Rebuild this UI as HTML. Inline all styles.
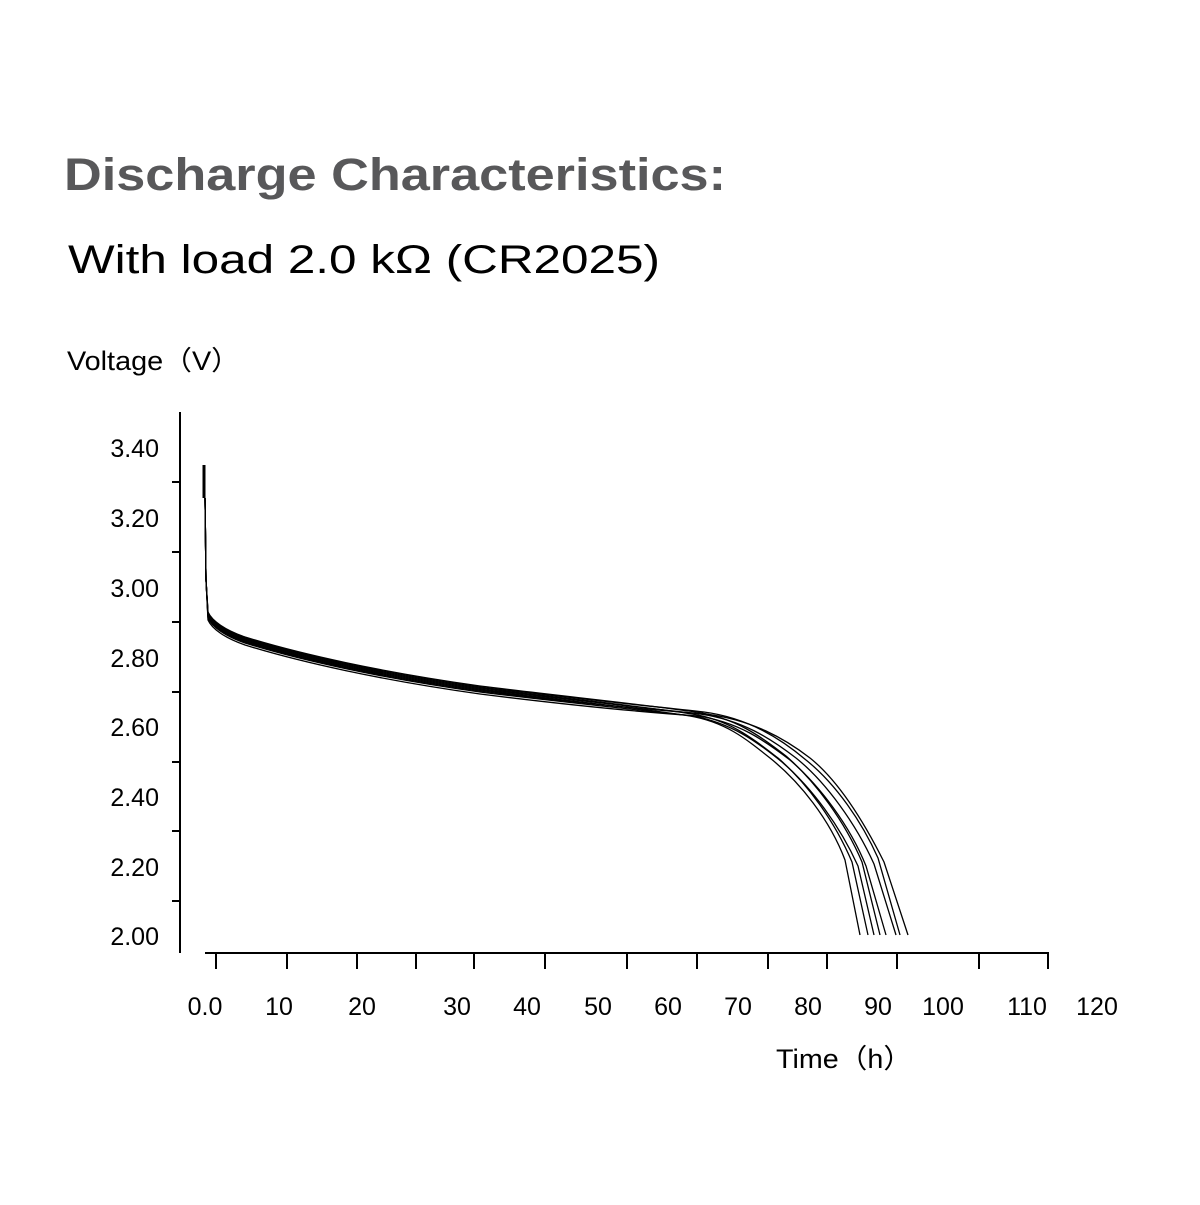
<!DOCTYPE html>
<html><head><style>
body{margin:0;background:#fff;}
svg text{font-family:"Liberation Sans","Noto Sans CJK SC",sans-serif;}
</style></head><body>
<svg width="1200" height="1200" viewBox="0 0 1200 1200" xmlns="http://www.w3.org/2000/svg">
<rect width="1200" height="1200" fill="#fff"/>
<text x="64" y="190" font-size="45" font-weight="bold" fill="#58585a" textLength="662" lengthAdjust="spacingAndGlyphs">Discharge Characteristics:</text>
<text x="68" y="273" font-size="40" fill="#000" textLength="592" lengthAdjust="spacingAndGlyphs">With load 2.0 kΩ (CR2025)</text>
<text x="67" y="370" font-size="27" fill="#000" textLength="173" lengthAdjust="spacingAndGlyphs">Voltage（V）</text>
<text x="776" y="1068" font-size="27" fill="#000" textLength="136" lengthAdjust="spacingAndGlyphs">Time（h）</text>
<g stroke="#000" stroke-width="2" fill="none">
<line x1="180" y1="412" x2="180" y2="953"/>
<line x1="205" y1="953" x2="1049" y2="953"/>
<path d="M172 482H180M172 552H180M172 622H180M172 692H180M172 762H180M172 831H180M172 901H180"/>
<path d="M216 953V969M287 953V969M357 953V969M416 953V969M474 953V969M545 953V969M627 953V969M697 953V969M768 953V969M827 953V969M897 953V969M979 953V969M1048 953V969"/>
<path d="M204 465V498" stroke-width="3"/>
</g>
<g font-size="25" fill="#000" text-anchor="end">
<text x="159" y="457">3.40</text><text x="159" y="527">3.20</text><text x="159" y="597">3.00</text>
<text x="159" y="667">2.80</text><text x="159" y="736">2.60</text><text x="159" y="806">2.40</text>
<text x="159" y="876">2.20</text><text x="159" y="945">2.00</text>
</g>
<g font-size="25" fill="#000" text-anchor="middle">
<text x="205" y="1015">0.0</text><text x="279" y="1015">10</text><text x="362" y="1015">20</text>
<text x="457" y="1015">30</text><text x="527" y="1015">40</text><text x="598" y="1015">50</text>
<text x="668" y="1015">60</text><text x="738" y="1015">70</text><text x="808" y="1015">80</text>
<text x="878" y="1015">90</text><text x="943" y="1015">100</text><text x="1027" y="1015">110</text>
<text x="1097" y="1015">120</text>
</g>
<g stroke="#000" stroke-width="1.3" fill="none" id="c">
<path d="M205 498L206 580L208 616C212 625 225 634 245 641C300 658 380 676 480 690C560 700 640 708 690 716C725 722 745 738 770 758C800 782 830 820 845 860L860 935"/>
<path d="M205 498L206 580L208 614C212 623 225 632 245 639C300 656 380 674 480 688C560 698 640 706 692 714C730 720 752 738 778 758C808 784 835 822 852 862L868 935"/>
<path d="M205 498L206 580L208 618C212 627 225 636 245 643C300 660 380 678 480 692C560 702 640 710 694 716C732 724 755 740 782 762C812 788 840 826 858 866L874 935"/>
<path d="M205 498L206 580L208 612C212 621 225 630 245 637C300 654 380 672 480 686C560 696 640 704 696 712C736 718 760 736 786 756C816 782 845 822 862 862L880 935"/>
<path d="M205 498L206 580L208 620C212 629 225 638 245 645C300 662 380 680 480 694C560 704 640 712 698 716C738 722 764 740 790 760C820 786 850 826 866 866L886 935"/>
<path d="M205 498L206 580L208 615C212 624 225 633 245 640C300 657 380 675 480 689C560 699 640 707 700 714C742 720 770 738 796 758C826 782 856 824 874 864L896 935"/>
<path d="M205 498L206 580L208 613C212 622 225 631 245 638C300 655 380 673 480 687C560 697 640 705 704 712C748 718 780 738 806 760C836 784 862 822 878 858L900 935"/>
<path d="M205 498L206 580L208 617C212 626 225 635 245 642C300 659 380 677 480 691C560 701 640 709 706 714C752 720 784 738 810 758C840 782 866 826 884 862L908 935"/>
</g>
</svg>
</body></html>
